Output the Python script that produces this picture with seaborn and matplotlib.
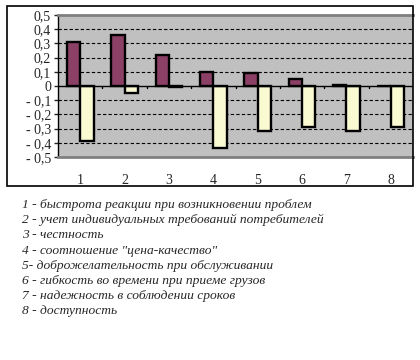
import matplotlib
matplotlib.use("Agg")
import matplotlib.pyplot as plt
from matplotlib.patches import Rectangle
import numpy as np
import pandas as pd
import seaborn as sns

sns.set_theme(style="white")
plt.rcParams["font.family"] = ["Liberation Serif", "DejaVu Serif"]

categories = ["1", "2", "3", "4", "5", "6", "7", "8"]
series_a = [0.31, 0.36, 0.22, 0.10, 0.09, 0.05, 0.01, 0.0]
series_b = [-0.39, -0.05, -0.01, -0.44, -0.32, -0.29, -0.32, -0.29]
series_names = ["A", "B"]
y_ticks = [-0.5, -0.4, -0.3, -0.2, -0.1, 0, 0.1, 0.2, 0.3, 0.4, 0.5]
legend_lines = [
    "1 - быстрота реакции при возникновении проблем",
    "2 - учет индивидуальных требований потребителей",
    "3 - честность",
    "4 - соотношение \"цена-качество\"",
    "5- доброжелательность при обслуживании",
    "6 - гибкость во времени при приеме грузов",
    "7 - надежность в соблюдении сроков",
    "8 - доступность",
]

df = pd.DataFrame({
    "cat": categories * 2,
    "value": series_a + series_b,
    "series": [series_names[0]] * len(categories) + [series_names[1]] * len(categories),
})

fig = plt.figure(figsize=(4.2, 3.6), dpi=100)

# outer chart frame
fig.patches.append(Rectangle((7 / 420, 1 - 186 / 360), 406 / 420, 180 / 360,
                             transform=fig.transFigure, fill=False,
                             edgecolor="black", linewidth=1.2, zorder=0))

ax = fig.add_axes([58 / 420, 1 - 157 / 360, 355 / 420, 142 / 360])
ax.set_facecolor("#C0C0C0")
ax.set_axisbelow(True)

sns.barplot(data=df, x="cat", y="value", hue="series", order=categories,
            palette={"A": "#993366", "B": "#FFFFCC"}, width=0.6, dodge=True,
            edgecolor="black", linewidth=1.7, legend=False, ax=ax, zorder=3)

ax.set_ylim(-0.5, 0.5)
ax.set_xlim(-0.5, len(categories) - 0.5)
ax.set_yticks(y_ticks)
ax.set_yticklabels([("- " if v < 0 else "") + f"{abs(v):.1f}".replace(".", ",")
                    if v != 0 else "0" for v in y_ticks], fontsize=10)
for v in y_ticks:
    if v not in (0, -0.5, 0.5):
        ax.axhline(v, color="black", linestyle=(0, (3, 2)), linewidth=0.8, zorder=1)
ax.axhline(0, color="black", linewidth=1.0, zorder=4)
# small tick marks on the zero line between categories
for xb in np.arange(0.5, len(categories) - 0.5, 1):
    ax.plot([xb, xb], [0, -0.012], color="black", linewidth=1.0, zorder=4)

ax.set_xlabel("")
ax.set_ylabel("")
ax.tick_params(axis="x", length=0, pad=12, labelsize=10)
ax.tick_params(axis="y", length=3, width=1, direction="out", pad=2, left=True)
for side in ["top", "bottom"]:
    ax.spines[side].set_color("#808080")
    ax.spines[side].set_linewidth(2)
ax.spines["left"].set_color("black")
ax.spines["left"].set_linewidth(1)
ax.spines["right"].set_visible(False)

y0 = 205
for i, line in enumerate(legend_lines):
    fig.text(22 / 420, 1 - (y0 + i * 15.2) / 360, line, fontsize=9.7, style="italic",
             va="center", ha="left")

fig.savefig("out.png", dpi=100)
